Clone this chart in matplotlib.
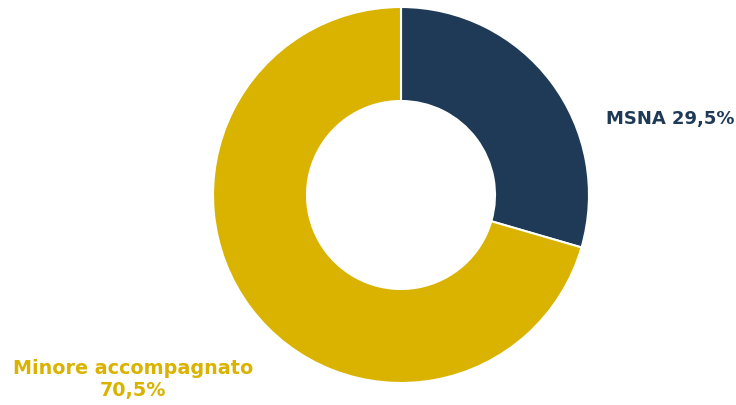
import matplotlib.pyplot as plt

# --- Data ---
labels = ['MSNA', 'Minore accompagnato']
values = [29.5, 70.5]
colors = ['#1F3A56', '#D9B300']

fig = plt.figure(figsize=(7.36, 4.06), dpi=100)
# donut centred at ~(401, 196) px, radius ~188 px
ax = fig.add_axes([(401 - 188) / 736, (406 - 196 - 188) / 406, 376 / 736, 376 / 406])
ax.pie(values, colors=colors, startangle=90, counterclock=False,
       wedgeprops=dict(width=0.5, edgecolor='white', linewidth=1.5))
ax.set_aspect('equal')
ax.set_xlim(-1, 1)
ax.set_ylim(-1, 1)
ax.axis('off')

fmt = lambda v: f"{v:.1f}".replace('.', ',') + '%'
fig.text(670 / 736, 1 - 119 / 406, f"{labels[0]} {fmt(values[0])}",
         ha='center', va='center', color=colors[0], fontsize=13,
         fontweight='bold', family='DejaVu Sans')
fig.text(133 / 736, 1 - 380 / 406, f"{labels[1]}\n{fmt(values[1])}",
         ha='center', va='center', color=colors[1], fontsize=13.8,
         fontweight='bold', family='DejaVu Sans', linespacing=1.2)

fig.savefig('out.png', dpi=100)
